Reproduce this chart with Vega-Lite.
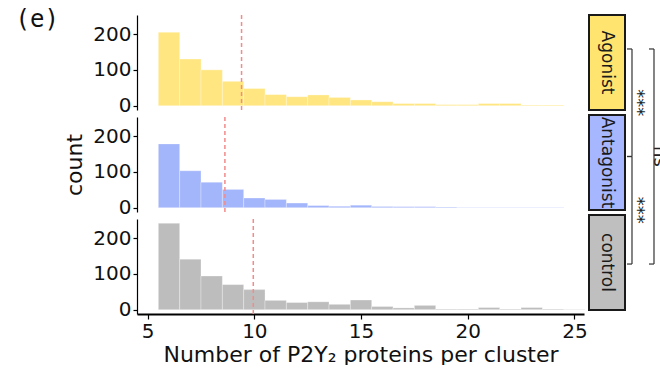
{
  "$schema": "https://vega.github.io/schema/vega-lite/v6.json",
  "padding": {"left": 15, "top": 8, "right": 0, "bottom": 0},
  "background": "white",
  "config": {
    "view": {"stroke": null},
    "font": "DejaVu Sans",
    "axis": {"grid": false, "domainColor": "#000000", "tickColor": "#000000", "labelColor": "#111111", "titleColor": "#111111", "labelFontSize": 20, "titleFontSize": 22, "titleFontWeight": "normal", "labelFont": "DejaVu Sans", "titleFont": "DejaVu Sans", "tickSize": 4, "tickWidth": 1.2, "domainWidth": 1.2, "labelPadding": 2}
  },
  "datasets": {
    "hist": [
      {"group": "Agonist", "bin_start": 5.5, "bin_end": 6.5, "count": 205},
      {"group": "Agonist", "bin_start": 6.5, "bin_end": 7.5, "count": 130},
      {"group": "Agonist", "bin_start": 7.5, "bin_end": 8.5, "count": 100},
      {"group": "Agonist", "bin_start": 8.5, "bin_end": 9.5, "count": 68},
      {"group": "Agonist", "bin_start": 9.5, "bin_end": 10.5, "count": 48},
      {"group": "Agonist", "bin_start": 10.5, "bin_end": 11.5, "count": 31},
      {"group": "Agonist", "bin_start": 11.5, "bin_end": 12.5, "count": 25},
      {"group": "Agonist", "bin_start": 12.5, "bin_end": 13.5, "count": 30},
      {"group": "Agonist", "bin_start": 13.5, "bin_end": 14.5, "count": 23},
      {"group": "Agonist", "bin_start": 14.5, "bin_end": 15.5, "count": 16},
      {"group": "Agonist", "bin_start": 15.5, "bin_end": 16.5, "count": 11},
      {"group": "Agonist", "bin_start": 16.5, "bin_end": 17.5, "count": 6},
      {"group": "Agonist", "bin_start": 17.5, "bin_end": 18.5, "count": 6},
      {"group": "Agonist", "bin_start": 18.5, "bin_end": 19.5, "count": 3},
      {"group": "Agonist", "bin_start": 19.5, "bin_end": 20.5, "count": 3},
      {"group": "Agonist", "bin_start": 20.5, "bin_end": 21.5, "count": 6},
      {"group": "Agonist", "bin_start": 21.5, "bin_end": 22.5, "count": 6},
      {"group": "Agonist", "bin_start": 22.5, "bin_end": 23.5, "count": 2},
      {"group": "Agonist", "bin_start": 23.5, "bin_end": 24.5, "count": 2},
      {"group": "Antagonist", "bin_start": 5.5, "bin_end": 6.5, "count": 178},
      {"group": "Antagonist", "bin_start": 6.5, "bin_end": 7.5, "count": 103},
      {"group": "Antagonist", "bin_start": 7.5, "bin_end": 8.5, "count": 71},
      {"group": "Antagonist", "bin_start": 8.5, "bin_end": 9.5, "count": 51},
      {"group": "Antagonist", "bin_start": 9.5, "bin_end": 10.5, "count": 27},
      {"group": "Antagonist", "bin_start": 10.5, "bin_end": 11.5, "count": 23},
      {"group": "Antagonist", "bin_start": 11.5, "bin_end": 12.5, "count": 13},
      {"group": "Antagonist", "bin_start": 12.5, "bin_end": 13.5, "count": 6},
      {"group": "Antagonist", "bin_start": 13.5, "bin_end": 14.5, "count": 4},
      {"group": "Antagonist", "bin_start": 14.5, "bin_end": 15.5, "count": 7},
      {"group": "Antagonist", "bin_start": 15.5, "bin_end": 16.5, "count": 3},
      {"group": "Antagonist", "bin_start": 16.5, "bin_end": 17.5, "count": 3},
      {"group": "Antagonist", "bin_start": 17.5, "bin_end": 18.5, "count": 3},
      {"group": "Antagonist", "bin_start": 18.5, "bin_end": 19.5, "count": 2},
      {"group": "Antagonist", "bin_start": 19.5, "bin_end": 20.5, "count": 1},
      {"group": "Antagonist", "bin_start": 20.5, "bin_end": 21.5, "count": 1},
      {"group": "Antagonist", "bin_start": 21.5, "bin_end": 22.5, "count": 1},
      {"group": "Antagonist", "bin_start": 22.5, "bin_end": 23.5, "count": 1},
      {"group": "Antagonist", "bin_start": 23.5, "bin_end": 24.5, "count": 1},
      {"group": "control", "bin_start": 5.5, "bin_end": 6.5, "count": 241},
      {"group": "control", "bin_start": 6.5, "bin_end": 7.5, "count": 141},
      {"group": "control", "bin_start": 7.5, "bin_end": 8.5, "count": 94},
      {"group": "control", "bin_start": 8.5, "bin_end": 9.5, "count": 70},
      {"group": "control", "bin_start": 9.5, "bin_end": 10.5, "count": 56},
      {"group": "control", "bin_start": 10.5, "bin_end": 11.5, "count": 26},
      {"group": "control", "bin_start": 11.5, "bin_end": 12.5, "count": 20},
      {"group": "control", "bin_start": 12.5, "bin_end": 13.5, "count": 22},
      {"group": "control", "bin_start": 13.5, "bin_end": 14.5, "count": 15},
      {"group": "control", "bin_start": 14.5, "bin_end": 15.5, "count": 27},
      {"group": "control", "bin_start": 15.5, "bin_end": 16.5, "count": 9},
      {"group": "control", "bin_start": 16.5, "bin_end": 17.5, "count": 5},
      {"group": "control", "bin_start": 17.5, "bin_end": 18.5, "count": 12},
      {"group": "control", "bin_start": 18.5, "bin_end": 19.5, "count": 2},
      {"group": "control", "bin_start": 19.5, "bin_end": 20.5, "count": 2},
      {"group": "control", "bin_start": 20.5, "bin_end": 21.5, "count": 6},
      {"group": "control", "bin_start": 21.5, "bin_end": 22.5, "count": 2},
      {"group": "control", "bin_start": 22.5, "bin_end": 23.5, "count": 6},
      {"group": "control", "bin_start": 23.5, "bin_end": 24.5, "count": 2},
      {"group": "control", "bin_start": 24.5, "bin_end": 25.5, "count": 1}
    ],
    "means": [
      {"group": "Agonist", "mean": 9.4},
      {"group": "Antagonist", "mean": 8.62},
      {"group": "control", "mean": 9.95}
    ],
    "groups": [
      {"group": "Agonist"},
      {"group": "Antagonist"},
      {"group": "control"}
    ],
    "brackets": [
      {"comparison": "Agonist vs Antagonist", "from": 1, "to": 2, "level": 1, "label": "***"},
      {"comparison": "Antagonist vs control", "from": 2, "to": 3, "level": 1, "label": "***"},
      {"comparison": "Agonist vs control", "from": 1, "to": 3, "level": 2, "label": "ns"}
    ]
  },
  "spacing": 0,
  "hconcat": [
    {
      "spacing": 7,
      "bounds": "flush",
      "vconcat": [
        {
          "width": 447, "height": 95,
          "title": {"text": "(e)", "orient": "left", "anchor": "end", "angle": 0, "align": "left", "baseline": "top", "offset": 34, "font": "DejaVu Sans Mono", "fontSize": 24, "fontWeight": "normal", "color": "#111111", "dy": -6},
          "layer": [
            {
              "data": {"name": "hist"},
              "transform": [{"filter": "datum.group === 'Agonist'"}],
              "mark": {"type": "bar", "color": "#ffe680", "stroke": "#ffffff", "strokeWidth": 0.5, "strokeOpacity": 0.6},
              "encoding": {
                "x": {"field": "bin_start", "type": "quantitative", "scale": {"domain": [4.5, 25.45], "nice": false, "zero": false}, "axis": null},
                "x2": {"field": "bin_end"},
                "y": {"field": "count", "type": "quantitative", "scale": {"domain": [-12, 253], "nice": false}, "axis": {"values": [0, 100, 200], "title": null}},
                "y2": {"datum": 0}
              }
            },
            {
              "data": {"name": "means"},
              "transform": [{"filter": "datum.group === 'Agonist'"}],
              "mark": {"type": "rule", "color": "#f28b8b", "strokeDash": [4, 3], "strokeWidth": 1.5},
              "encoding": {"x": {"field": "mean", "type": "quantitative"}}
            }
          ]
        },
        {
          "width": 447, "height": 95,
          "layer": [
            {
              "data": {"name": "hist"},
              "transform": [{"filter": "datum.group === 'Antagonist'"}],
              "mark": {"type": "bar", "color": "#a3b5fb", "stroke": "#ffffff", "strokeWidth": 0.5, "strokeOpacity": 0.6},
              "encoding": {
                "x": {"field": "bin_start", "type": "quantitative", "scale": {"domain": [4.5, 25.45], "nice": false, "zero": false}, "axis": null},
                "x2": {"field": "bin_end"},
                "y": {"field": "count", "type": "quantitative", "scale": {"domain": [-12, 253], "nice": false}, "axis": {"values": [0, 100, 200], "title": "count", "titlePadding": 6}},
                "y2": {"datum": 0}
              }
            },
            {
              "data": {"name": "means"},
              "transform": [{"filter": "datum.group === 'Antagonist'"}],
              "mark": {"type": "rule", "color": "#f28b8b", "strokeDash": [4, 3], "strokeWidth": 1.5},
              "encoding": {"x": {"field": "mean", "type": "quantitative"}}
            }
          ]
        },
        {
          "width": 447, "height": 95,
          "layer": [
            {
              "data": {"name": "hist"},
              "transform": [{"filter": "datum.group === 'control'"}],
              "mark": {"type": "bar", "color": "#bdbdbd", "stroke": "#ffffff", "strokeWidth": 0.5, "strokeOpacity": 0.6},
              "encoding": {
                "x": {"field": "bin_start", "type": "quantitative", "scale": {"domain": [4.5, 25.45], "nice": false, "zero": false}, "axis": {"values": [5, 10, 15, 20, 25], "title": "Number of P2Y₂ proteins per cluster", "tickSize": 5, "domainWidth": 1.8, "titlePadding": 3}},
                "x2": {"field": "bin_end"},
                "y": {"field": "count", "type": "quantitative", "scale": {"domain": [-12, 253], "nice": false}, "axis": {"values": [0, 100, 200], "title": null}},
                "y2": {"datum": 0}
              }
            },
            {
              "data": {"name": "means"},
              "transform": [{"filter": "datum.group === 'control'"}],
              "mark": {"type": "rule", "color": "#f28b8b", "strokeDash": [4, 3], "strokeWidth": 1.5},
              "encoding": {"x": {"field": "mean", "type": "quantitative"}}
            }
          ]
        }
      ]
    },
    {
      "spacing": 3,
      "vconcat": [
        {
          "width": 36, "height": 95,
          "data": {"name": "groups"},
          "transform": [{"filter": "datum.group === 'Agonist'"}],
          "layer": [
            {"mark": {"type": "rect", "fill": "#ffe470", "stroke": "#1a1a1a", "strokeWidth": 2},
             "encoding": {"x": {"datum": 0, "type": "quantitative", "scale": {"domain": [0, 1], "nice": false}, "axis": null}, "x2": {"datum": 1}, "y": {"datum": 0, "type": "quantitative", "scale": {"domain": [0, 1], "nice": false}, "axis": null}, "y2": {"datum": 1}}},
            {"mark": {"type": "text", "angle": 90, "fontSize": 17, "color": "#1a1a1a", "font": "DejaVu Sans"},
             "encoding": {"x": {"datum": 0.5, "type": "quantitative", "axis": null}, "y": {"datum": 0.5, "type": "quantitative", "axis": null}, "text": {"field": "group"}}}
          ]
        },
        {
          "width": 36, "height": 95,
          "data": {"name": "groups"},
          "transform": [{"filter": "datum.group === 'Antagonist'"}],
          "layer": [
            {"mark": {"type": "rect", "fill": "#a6b6ff", "stroke": "#1a1a1a", "strokeWidth": 2},
             "encoding": {"x": {"datum": 0, "type": "quantitative", "scale": {"domain": [0, 1], "nice": false}, "axis": null}, "x2": {"datum": 1}, "y": {"datum": 0, "type": "quantitative", "scale": {"domain": [0, 1], "nice": false}, "axis": null}, "y2": {"datum": 1}}},
            {"mark": {"type": "text", "angle": 90, "fontSize": 17, "color": "#1a1a1a", "font": "DejaVu Sans"},
             "encoding": {"x": {"datum": 0.5, "type": "quantitative", "axis": null}, "y": {"datum": 0.5, "type": "quantitative", "axis": null}, "text": {"field": "group"}}}
          ]
        },
        {
          "width": 36, "height": 95,
          "data": {"name": "groups"},
          "transform": [{"filter": "datum.group === 'control'"}],
          "layer": [
            {"mark": {"type": "rect", "fill": "#bfbfbf", "stroke": "#1a1a1a", "strokeWidth": 2},
             "encoding": {"x": {"datum": 0, "type": "quantitative", "scale": {"domain": [0, 1], "nice": false}, "axis": null}, "x2": {"datum": 1}, "y": {"datum": 0, "type": "quantitative", "scale": {"domain": [0, 1], "nice": false}, "axis": null}, "y2": {"datum": 1}}},
            {"mark": {"type": "text", "angle": 90, "fontSize": 17, "color": "#1a1a1a", "font": "DejaVu Sans"},
             "encoding": {"x": {"datum": 0.5, "type": "quantitative", "axis": null}, "y": {"datum": 0.5, "type": "quantitative", "axis": null}, "text": {"field": "group"}}}
          ]
        }
      ]
    },
    {
      "width": 40, "height": 300,
      "data": {"name": "brackets"},
      "layer": [
        {
          "mark": {"type": "rule", "color": "#333333", "strokeWidth": 1.2},
          "encoding": {
            "x": {"field": "level", "type": "quantitative", "scale": {"domain": [0.773, 2.591], "nice": false, "zero": false}, "axis": null},
            "y": {"field": "from", "type": "quantitative", "scale": {"domain": [0.684, 3.474], "nice": false, "zero": false, "reverse": true}, "axis": null},
            "y2": {"field": "to"}
          }
        },
        {
          "transform": [{"fold": ["from", "to"], "as": ["end", "position"]}],
          "mark": {"type": "rule", "color": "#333333", "strokeWidth": 1.2, "xOffset": -5},
          "encoding": {
            "x": {"field": "level", "type": "quantitative", "axis": null},
            "x2": {"field": "level"},
            "y": {"field": "position", "type": "quantitative", "axis": null}
          }
        },
        {
          "transform": [
            {"fold": ["from", "to"], "as": ["end", "position"]},
            {"aggregate": [{"op": "mean", "field": "position", "as": "middle"}], "groupby": ["comparison", "label", "level"]}
          ],
          "mark": {"type": "text", "angle": 90, "fontSize": 18, "xOffset": 5, "color": "#222222", "font": "DejaVu Sans"},
          "encoding": {
            "x": {"field": "level", "type": "quantitative", "axis": null},
            "y": {"field": "middle", "type": "quantitative", "axis": null},
            "text": {"field": "label"}
          }
        }
      ]
    }
  ]
}
